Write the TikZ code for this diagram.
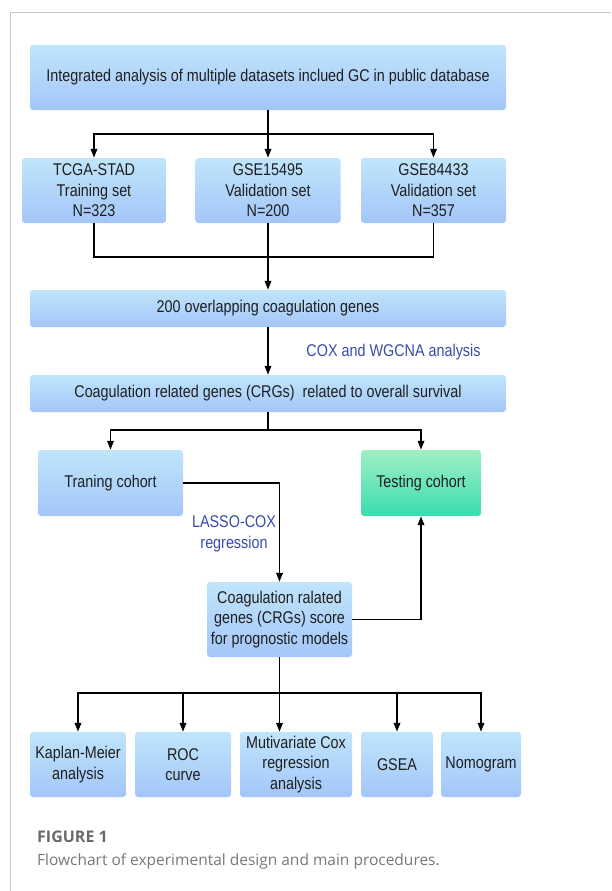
\documentclass[tikz,border=0pt]{standalone}
\usepackage{fontspec}
\setmainfont{Liberation Sans}
\newfontfamily\boxfont[FakeStretch=0.845]{Liberation Sans}
\newfontfamily\capfont{Open Sans}
\usetikzlibrary{arrows.meta}

\definecolor{boxtop}{RGB}{192,229,251}
\definecolor{boxbot}{RGB}{163,198,248}
\definecolor{greentop}{RGB}{160,239,196}
\definecolor{greenbot}{RGB}{58,221,176}
\definecolor{labelblue}{RGB}{55,75,170}
\definecolor{framegray}{RGB}{200,200,200}
\definecolor{capgray}{RGB}{105,105,105}

\tikzset{
  stage/.style={rectangle, rounded corners=3pt, top color=boxtop, bottom color=boxbot,
    draw=none, align=center, inner sep=0pt, text=black!88,
    font=\boxfont\fontsize{17}{20.5}\selectfont},
  cohortgreen/.style={stage, top color=greentop, bottom color=greenbot},
  flow/.style={line width=1.8pt, black},
  flowarrow/.style={flow, -{Triangle[length=9pt,width=6.5pt]}},
  steplabel/.style={align=center, text=labelblue, inner sep=0pt,
    font=\boxfont\fontsize{17}{20.5}\selectfont}
}

\begin{document}
\begin{tikzpicture}[x=1pt,y=-1pt]

	\useasboundingbox (0,0) rectangle (611,891);

	% frame
	\draw[framegray, line width=0.8pt] (10,891) -- (10,12) -- (611,12);

	% datasets
	\node[stage, minimum width=476pt, minimum height=65pt] (top) at (268,77.5)
		{Integrated analysis of multiple datasets inclued GC in public database};
	\node[stage, minimum width=144pt, minimum height=65pt] (tcga) at (94,190.5)
		{TCGA-STAD\\Training set\\N=323};
	\node[stage, minimum width=145pt, minimum height=65pt] (gsea15) at (268,190.5)
		{GSE15495\\Validation set\\N=200};
	\node[stage, minimum width=145pt, minimum height=65pt] (gsea84) at (433.5,190.5)
		{GSE84433\\Validation set\\N=357};

	% genes
	\node[stage, minimum width=476pt, minimum height=37pt] (overlap) at (268,308.5)
		{200 overlapping coagulation genes};
	\node[stage, minimum width=476pt, minimum height=37pt] (crgs) at (268,393.5)
		{Coagulation related genes (CRGs)\ \ related to overall survival};

	% cohorts
	\node[stage, minimum width=145pt, minimum height=66pt] (train) at (110.5,483)
		{Traning cohort};
	\node[cohortgreen, minimum width=120pt, minimum height=66pt] (test) at (421,483)
		{Testing cohort};
	\node[stage, minimum width=145pt, minimum height=75pt] (score) at (279.5,619.5)
		{Coagulation ralated\\genes (CRGs) score\\for prognostic models};

	% analyses
	\node[stage, minimum width=96pt, minimum height=65pt] (km) at (78,764.5)
		{Kaplan-Meier\\analysis};
	\node[stage, minimum width=96pt, minimum height=65pt] (roc) at (183,764.5)
		{ROC\\curve};
	\node[stage, minimum width=112pt, minimum height=65pt] (cox) at (296,764.5)
		{Mutivariate Cox\\regression\\analysis};
	\node[stage, minimum width=72pt, minimum height=65pt] (gsea) at (397,764.5)
		{GSEA};
	\node[stage, minimum width=80pt, minimum height=65pt] (nomo) at (481,764.5)
		{Nomogram};

	% labels
	\node[steplabel] (coxlab) at (393.5,352) {COX and WGCNA analysis};
	\node[steplabel] (lassolab) at (234,534) {LASSO-COX\\regression};

	% connectors
	\coordinate (split1) at (268,134);
	\draw[flowarrow] (top.south) -- (gsea15.north);
	\draw[flowarrow] (split1) -| (tcga.north);
	\draw[flowarrow] (split1) -| (gsea84.north);

	\coordinate (merge1) at (268,257);
	\draw[flow] (tcga.south) |- (merge1);
	\draw[flow] (gsea84.south) |- (merge1);
	\draw[flowarrow] (gsea15.south) -- (overlap.north);

	\draw[flowarrow] (overlap.south) -- (crgs.north);

	\coordinate (split2) at (268,430);
	\draw[flow] (crgs.south) -- (split2);
	\draw[flowarrow] (split2) -| (train.north);
	\draw[flowarrow] (split2) -| (test.north);

	\draw[flowarrow] (train.east) -| (score.north);
	\draw[flowarrow] (score.east) -| (test.south);

	\coordinate (split3) at (279.5,693);
	\draw[flowarrow] (score.south) -- (score.south |- cox.north);
	\draw[flowarrow] (split3) -| (km.north);
	\draw[flowarrow] (split3) -| (roc.north);
	\draw[flowarrow] (split3) -| (gsea.north);
	\draw[flowarrow] (split3) -| (nomo.north);

	% caption
	\node[anchor=base west, inner sep=0pt, text=capgray,
		font=\capfont\bfseries\fontsize{16}{19}\selectfont] (figno) at (37,842.7) {FIGURE 1};
	\node[anchor=base west, inner sep=0pt, text=capgray!90,
		font=\capfont\fontsize{15.5}{19}\selectfont] (figcap) at (37,865)
		{Flowchart of experimental design and main procedures.};

\end{tikzpicture}
\end{document}
